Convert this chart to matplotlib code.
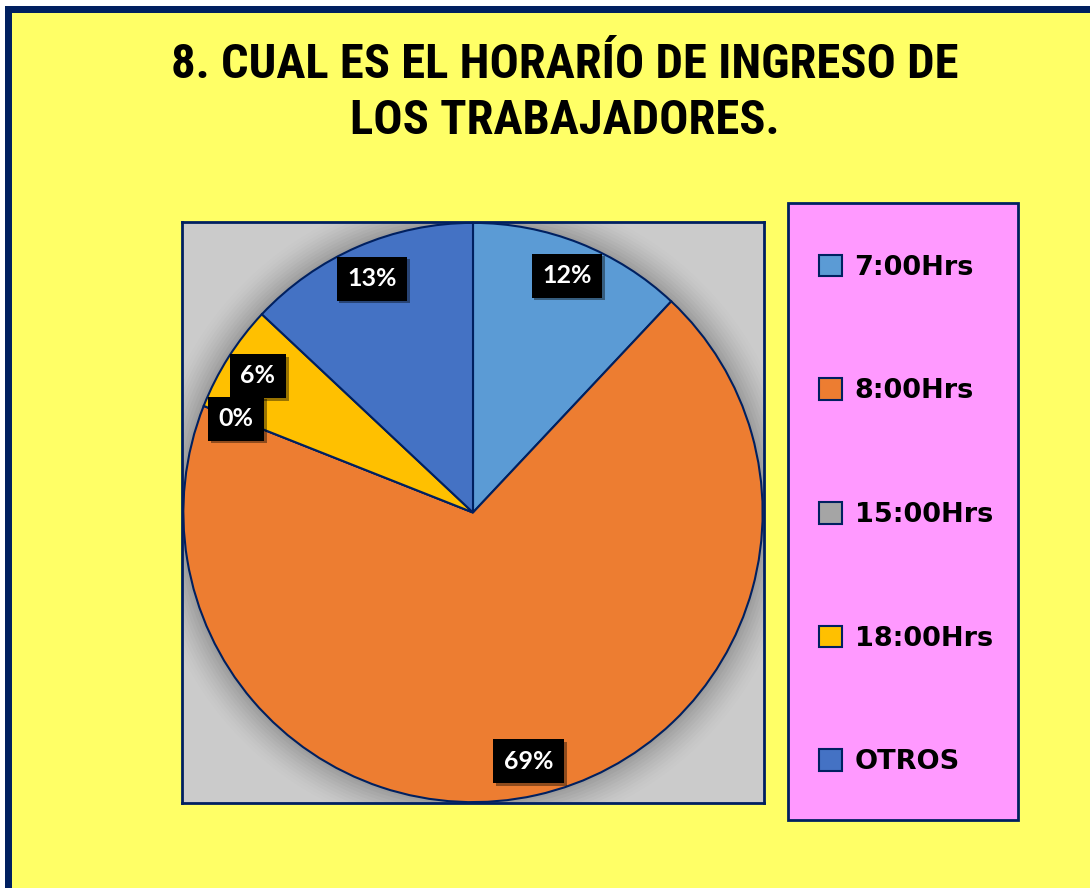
import matplotlib.pyplot as plt
import matplotlib.patheffects as pe
from matplotlib.patches import Rectangle, Circle
import numpy as np

labels = ["7:00Hrs", "8:00Hrs", "15:00Hrs", "18:00Hrs", "OTROS"]
values = [12, 69, 0, 6, 13]
colors = ["#5B9BD5", "#ED7D31", "#A5A5A5", "#FFC000", "#4472C4"]
title = "8. CUAL ES EL HORARÍO DE INGRESO DE\nLOS TRABAJADORES."

NAVY = "#002060"
W, H = 1090, 888

fig = plt.figure(figsize=(W / 100, H / 100), dpi=100)
fig.patch.set_facecolor("white")

# yellow background with navy border on top / left
fig.add_artist(Rectangle((5 / W, 0), 1, 1 - 6 / H, transform=fig.transFigure,
                         facecolor="#FFFF66", edgecolor="none", zorder=0))
fig.add_artist(Rectangle((5 / W, 1 - 13 / H), 1, 7 / H, transform=fig.transFigure,
                         facecolor=NAVY, edgecolor="none", zorder=0.5))
fig.add_artist(Rectangle((5 / W, 0), 7 / W, 1 - 6 / H, transform=fig.transFigure,
                         facecolor=NAVY, edgecolor="none", zorder=0.5))

fig.text(565 / W, 1 - 93 / H, title, ha="center", va="center",
         fontsize=35, fontweight="bold", linespacing=1.28,
         family=["Roboto Condensed", "Open Sans Condensed", "Liberation Sans Narrow", "Lato", "DejaVu Sans"])

# plot area
ax = fig.add_axes([182 / W, (H - 803) / H, 582 / W, 581 / H])

# soft shadow round the pie
for r, a in zip(np.linspace(1.12, 1.0, 12), np.linspace(0.006, 0.035, 12)):
    ax.add_patch(Circle((0, 0), r, facecolor="black", alpha=a, edgecolor="none", zorder=0.5))

wedges, _ = ax.pie(values, colors=colors, startangle=90, counterclock=False,
                   radius=1.0, wedgeprops=dict(edgecolor=NAVY, linewidth=1.5))
for w in wedges:
    w.set_zorder(2)
ax.set_frame_on(True)
ax.set_facecolor("#CBCBCB")
for s in ax.spines.values():
    s.set_visible(True)
    s.set_color(NAVY)
    s.set_linewidth(2)
ax.set_xticks([])
ax.set_yticks([])
ax.set_xlim(-1.003, 1.003)
ax.set_ylim(-1.003, 1.003)

for w, v in zip(wedges, values):
    ang = np.deg2rad((w.theta1 + w.theta2) / 2)
    t = ax.text(0.88 * np.cos(ang), 0.88 * np.sin(ang), f"{v}%", ha="center", va="center",
                color="white", fontsize=18, fontweight="bold", family=["Lato", "DejaVu Sans"],
                zorder=5,
                bbox=dict(boxstyle="square,pad=0.42", facecolor="black", edgecolor="none"))
    t.get_bbox_patch().set_path_effects([pe.withSimplePatchShadow(offset=(2, -2), alpha=0.4)])

# legend box
fig.add_artist(Rectangle((788 / W, (H - 820) / H), 230 / W, 617 / H, transform=fig.transFigure,
                         facecolor="#FF99FF", edgecolor=NAVY, linewidth=2, zorder=1))
leg = fig.legend(wedges, labels, loc="center left", bbox_to_anchor=(795 / W, 1 - 515 / H),
                 frameon=False, prop=dict(family="DejaVu Sans", weight="bold", size=19.5),
                 labelspacing=3.6, handlelength=0.85, handleheight=0.85, handletextpad=0.45)

fig.savefig("out.png", dpi=100)
